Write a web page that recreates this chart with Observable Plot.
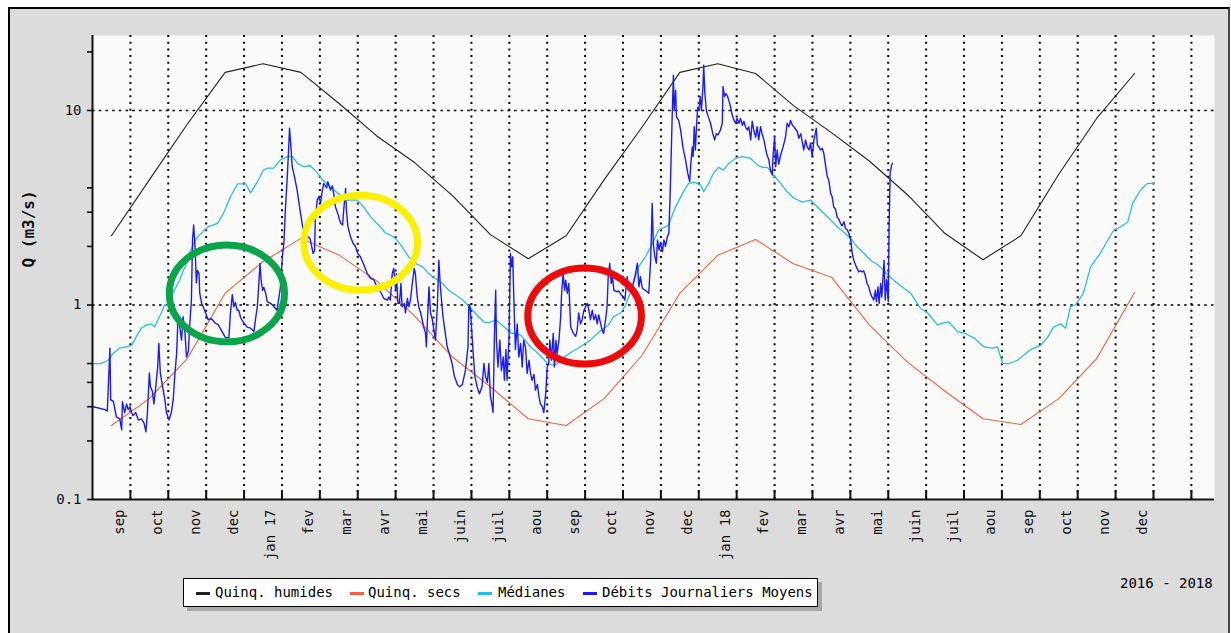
<!DOCTYPE html>
<html>
<head>
<meta charset="utf-8">
<script src="https://cdn.jsdelivr.net/npm/d3@7"></script>
<script src="https://cdn.jsdelivr.net/npm/@observablehq/plot@0.6"></script>
<style>
  html, body { margin: 0; padding: 0; background: #fff; }
  body { width: 1231px; height: 633px; overflow: hidden; position: relative; font-family: "DejaVu Sans Mono", monospace; }
  #panel { position: absolute; left: 8px; top: 7px; width: 1222px; height: 640px; background: #dcdcdc;
           border-left: 2px solid #000; border-top: 2px solid #000; border-right: 2px solid #444; box-sizing: border-box; }
  #chart { position: absolute; left: 0; top: 0; }
  #legend { position: absolute; left: 183px; top: 578px; width: 635px; height: 29px; background: #fff;
            border: 1.5px solid #000; box-sizing: border-box; box-shadow: 4px 4px 0 #a8a8a8; }
  .sw { position: absolute; height: 3px; top: 13px; }
  .lt { position: absolute; top: 5px; font-size: 14px; color: #000; white-space: pre; line-height: 16px; }
  #period { position: absolute; left: 1120px; top: 575px; font-size: 14px; color: #000; white-space: pre; }
</style>
</head>
<body>
<div id="panel"></div>
<div id="chart"></div>
<div id="legend"></div>
<div id="period"></div>
<script>
// ---------- DATA ----------
// x positions are in months since 1 Sep 2016 (uniform month width, as in the original chart)
const monthLabels = ["sep","oct","nov","dec","jan 17","fev","mar","avr","mai","juin","juil","aou",
                     "sep","oct","nov","dec","jan 18","fev","mar","avr","mai","juin","juil","aou",
                     "sep","oct","nov","dec"];
const monthBoundaries = [1,2,3,4,5,6,7,8,9,10,11,12,13,14,15,16,17,18,19,20,21,22,23,24,25,26,27,28,29];
const xDomain = [0, 29.61];
const yDomain = [0.1, 24.3];
const yMajorTicks = [0.1, 1, 10];
const yMajorLabels = ["0.1", "1", "10"];
const yMinorTicks = [0.2, 0.3, 0.4, 0.5, 2, 3, 4, 20];
const yGrid = [1, 10];
const yTitle = "Q (m3/s)";
const periodText = "2016 - 2018";

const seriesNames = ["Quinq. humides", "Quinq. secs", "Médianes", "Débits Journaliers Moyens"];
const seriesColors = ["#222222", "#f5603e", "#27bee6", "#1a1aff"];

// monthly values, plotted at mid-month (Sep 2016 ... Dec 2018)
const quinqHumides = [2.27,4.4,8.5,15.7,17.4,15.7,10.9,7.4,5.4,3.65,2.3,1.73,
                      2.27,4.4,8.2,15.7,17.4,15.5,10.6,7.7,5.5,3.7,2.33,1.71,
                      2.27,4.7,9.1,15.5];
const quinqSecs = [0.24,0.33,0.53,1.15,1.67,2.2,1.81,1.33,0.88,0.54,0.38,0.26,
                   0.24,0.33,0.55,1.15,1.80,2.17,1.63,1.39,0.79,0.51,0.36,0.26,
                   0.243,0.33,0.53,1.16];

// Médianes: [month position, Q]
const medianes = [[0,0.50],[0.21,0.50],[0.42,0.52],[0.55,0.565],[0.71,0.60],[0.90,0.61],[1.03,0.62],[1.16,0.69],[1.29,0.76],[1.43,0.79],[1.56,0.80],[1.64,0.77],[1.74,0.85],[1.85,0.94],[1.90,1.0],[2.01,0.99],[2.08,1.10],[2.16,1.19],[2.30,1.34],[2.40,1.51],[2.48,1.64],[2.56,1.84],[2.67,2.07],[2.77,2.24],[3.04,2.52],[3.30,2.63],[3.46,2.97],[3.64,3.6],[3.83,4.2],[4.04,4.2],[4.17,3.77],[4.35,4.3],[4.51,4.94],[4.62,5.05],[4.78,5.05],[4.96,5.57],[5.15,5.79],[5.28,5.79],[5.41,5.35],[5.57,5.14],[5.75,5.2],[5.94,4.75],[6.07,4.4],[6.28,4.04],[6.47,3.77],[6.73,3.46],[6.99,3.46],[7.15,3.2],[7.34,2.84],[7.60,2.52],[7.73,2.34],[7.86,2.29],[8.00,2.2],[8.18,1.98],[8.34,1.77],[8.52,1.64],[8.71,1.57],[8.87,1.45],[9.05,1.37],[9.24,1.29],[9.40,1.19],[9.58,1.13],[9.77,1.06],[9.90,1.0],[10.03,0.94],[10.19,0.87],[10.32,0.82],[10.45,0.81],[10.64,0.84],[10.77,0.80],[11.03,0.72],[11.30,0.70],[11.56,0.61],[11.82,0.55],[12.01,0.50],[12.14,0.49],[12.27,0.50],[12.40,0.53],[12.62,0.57],[12.88,0.61],[13.14,0.66],[13.41,0.74],[13.62,0.79],[13.75,0.87],[13.94,0.91],[14.07,1.0],[14.25,1.24],[14.41,1.57],[14.59,1.77],[14.78,2.07],[14.94,2.43],[15.12,2.52],[15.20,2.58],[15.39,3.2],[15.57,3.75],[15.73,4.22],[15.91,4.27],[16.05,4.12],[16.13,3.82],[16.26,4.22],[16.39,4.77],[16.52,5.1],[16.65,4.94],[16.79,5.35],[16.97,5.67],[17.15,5.79],[17.37,5.67],[17.55,5.24],[17.68,5.1],[17.81,5.1],[17.97,4.66],[18.16,4.22],[18.34,3.82],[18.50,3.55],[18.74,3.38],[18.95,3.46],[19.13,3.2],[19.29,2.97],[19.48,2.74],[19.66,2.52],[19.82,2.37],[20.01,2.2],[20.19,1.98],[20.35,1.85],[20.53,1.70],[20.72,1.61],[20.88,1.51],[21.06,1.39],[21.25,1.29],[21.59,1.15],[21.85,0.96],[22.04,0.91],[22.30,0.79],[22.46,0.81],[22.59,0.82],[22.83,0.73],[22.99,0.72],[23.25,0.68],[23.52,0.61],[23.75,0.60],[23.88,0.61],[24.02,0.50],[24.18,0.50],[24.41,0.52],[24.76,0.59],[25.02,0.62],[25.20,0.68],[25.36,0.77],[25.55,0.80],[25.68,0.76],[25.81,0.98],[25.94,1.0],[26.15,1.15],[26.34,1.57],[26.60,1.85],[26.95,2.43],[27.13,2.52],[27.32,2.67],[27.45,3.33],[27.66,3.9],[27.84,4.22],[28.00,4.22]];

// Débits journaliers moyens: [month position, Q]
const debits = [[0.02,0.30],[0.33,0.29],[0.39,0.285],[0.46,0.60],[0.48,0.325],[0.55,0.32],[0.63,0.266],[0.72,0.26],[0.77,0.228],[0.79,0.318],[0.85,0.28],[0.90,0.31],[0.94,0.29],[0.99,0.30],[1.03,0.28],[1.07,0.27],[1.14,0.28],[1.21,0.256],[1.29,0.26],[1.36,0.247],[1.41,0.223],[1.45,0.28],[1.50,0.447],[1.53,0.38],[1.58,0.36],[1.62,0.31],[1.67,0.38],[1.72,0.48],[1.75,0.635],[1.79,0.447],[1.85,0.38],[1.91,0.325],[1.95,0.28],[2.02,0.256],[2.08,0.28],[2.13,0.325],[2.17,0.43],[2.22,0.564],[2.26,0.89],[2.30,0.78],[2.35,0.66],[2.39,0.87],[2.44,0.72],[2.48,0.54],[2.53,0.58],[2.57,0.81],[2.61,1.06],[2.64,2.16],[2.67,2.58],[2.71,1.92],[2.74,1.30],[2.77,1.51],[2.81,1.45],[2.83,1.15],[2.88,1.02],[2.96,0.94],[3.05,0.84],[3.14,0.85],[3.23,0.81],[3.32,0.79],
[3.51,0.68],[3.60,0.68],[3.64,0.91],[3.69,1.13],[3.73,0.98],[3.77,1.03],[3.82,0.94],[3.86,0.94],[3.91,0.86],[3.99,0.81],[4.08,0.77],[4.17,0.76],[4.26,0.73],[4.30,0.84],[4.35,0.98],[4.39,1.29],[4.42,1.64],[4.45,1.34],[4.49,1.19],[4.52,1.23],[4.57,1.15],[4.61,1.04],[4.70,1.02],[4.79,0.98],[4.87,0.94],[4.92,1.09],[4.96,1.24],[5.01,1.77],[5.05,2.07],[5.09,3.08],[5.14,4.57],[5.17,6.0],[5.20,8.1],[5.23,6.8],[5.27,5.14],[5.33,4.57],[5.40,3.90],[5.49,2.96],[5.56,2.43],[5.62,2.43],[5.68,2.24],[5.74,2.20],[5.77,2.07],[5.82,1.84],[5.86,1.90],[5.88,2.74],[5.93,3.46],[5.97,3.60],[6.02,3.35],[6.06,3.82],[6.10,4.22],[6.18,4.0],[6.21,4.31],[6.28,3.90],[6.33,4.1],[6.37,3.68],[6.41,3.20],[6.47,2.96],[6.55,2.63],[6.60,2.58],[6.63,3.08],[6.68,3.98],[6.70,3.08],[6.74,2.53],[6.81,2.24],[6.88,2.07],[6.94,2.0],[7.00,1.84],
[7.07,1.77],[7.16,1.61],[7.25,1.45],[7.34,1.37],[7.42,1.35],[7.51,1.24],[7.60,1.17],[7.69,1.08],[7.78,1.06],[7.82,1.10],[7.86,1.06],[7.91,1.45],[7.95,1.54],[8.00,1.19],[8.02,1.45],[8.06,1.02],[8.10,1.02],[8.14,1.29],[8.17,0.98],[8.23,1.02],[8.26,0.91],[8.31,1.08],[8.35,0.98],[8.39,1.06],[8.44,1.29],[8.49,1.54],[8.52,1.45],[8.57,1.10],[8.61,0.98],[8.66,0.91],[8.70,0.84],[8.74,0.77],[8.79,0.715],[8.81,0.61],[8.84,0.84],[8.88,1.24],[8.92,0.91],[8.97,0.84],[9.01,0.74],[9.05,0.66],[9.10,0.98],[9.14,1.70],[9.18,1.24],[9.25,0.87],[9.30,0.74],[9.36,0.61],[9.42,0.56],[9.49,0.50],[9.55,0.43],[9.63,0.39],[9.69,0.38],[9.76,0.39],[9.84,0.46],[9.91,0.61],[9.93,0.98],[9.96,1.0],[9.99,0.84],[10.04,0.59],[10.09,0.43],[10.15,0.38],[10.21,0.35],[10.28,0.38],[10.33,0.50],[10.37,0.43],[10.42,0.40],[10.46,0.50],[10.50,0.34],[10.55,0.30],[10.57,0.28],[10.61,0.74],
[10.64,1.19],[10.66,0.66],[10.70,0.48],[10.75,0.66],[10.79,0.46],[10.84,0.54],[10.87,0.41],[10.91,0.59],[10.94,0.41],[10.99,0.66],[11.03,1.84],[11.06,1.57],[11.09,1.77],[11.12,1.06],[11.16,0.59],[11.21,0.80],[11.25,0.54],[11.30,0.635],[11.34,0.48],[11.38,0.66],[11.43,0.60],[11.47,0.445],[11.52,0.52],[11.56,0.445],[11.60,0.41],[11.65,0.44],[11.69,0.365],[11.74,0.39],[11.78,0.34],[11.82,0.31],[11.87,0.30],[11.91,0.28],[11.96,0.35],[12.00,0.48],[12.04,0.50],[12.07,0.66],[12.11,0.52],[12.16,0.715],[12.19,0.48],[12.23,0.66],[12.26,0.56],[12.31,0.66],[12.35,0.84],[12.38,1.15],[12.42,1.45],[12.46,1.19],[12.49,1.34],[12.53,1.15],[12.57,1.29],[12.62,0.77],[12.69,0.715],[12.75,0.69],[12.79,0.74],[12.83,0.91],[12.88,0.80],[12.92,0.84],[12.97,0.94],[13.01,0.98],[13.06,1.02],[13.10,0.94],[13.14,0.84],[13.19,0.94],[13.23,0.84],[13.28,0.89],[13.32,0.80],[13.36,0.89],[13.41,0.80],[13.45,0.74],[13.49,0.715],[13.54,0.84],[13.58,0.98],[13.61,1.40],[13.65,1.64],[13.69,1.29],[13.72,1.40],[13.76,1.19],[13.83,1.17],[13.89,1.18],[13.95,1.13],[14.01,1.10],[14.05,1.06],
[14.11,1.40],[14.15,1.19],[14.24,1.22],[14.33,1.45],[14.38,1.64],[14.42,1.24],[14.46,1.40],[14.51,1.22],[14.59,1.19],[14.68,1.15],[14.73,1.70],[14.75,2.34],[14.77,3.33],[14.80,2.07],[14.84,1.77],[14.88,1.64],[14.91,2.16],[14.95,1.92],[14.99,2.10],[15.04,1.88],[15.08,2.16],[15.12,2.0],[15.17,2.24],[15.21,2.34],[15.25,4.06],[15.30,9.6],[15.33,15.2],[15.35,10],[15.39,12.7],[15.41,9.3],[15.47,8.9],[15.52,7.94],[15.58,6.5],[15.65,5.57],[15.71,4.75],[15.76,4.31],[15.79,5.35],[15.83,6.5],[15.85,5.79],[15.88,8.25],[15.91,6.27],[15.94,8.25],[15.97,10.4],[16.00,10],[16.04,11.8],[16.07,10],[16.11,13.3],[16.13,17.1],[16.16,12.3],[16.20,10],[16.25,9.3],[16.31,8.6],[16.37,7.6],[16.42,7.06],[16.46,7.6],[16.51,7.5],[16.57,7.94],[16.62,8.6],[16.64,13.3],[16.68,11.8],[16.72,12.2],[16.76,11.8],[16.79,11.3],[16.84,10.4],[16.88,9.5],[16.93,8.9],[16.97,8.6],[17.01,9.1],[17.06,8.6],[17.10,9.1],[17.15,8.4],[17.19,8.8],[17.23,8.25],[17.28,7.94],[17.32,8.25],[17.37,7.06],[17.41,8.8],[17.45,7.94],[17.50,7.3],[17.54,8.25],[17.58,7.06],[17.63,8.25],[17.67,7.6],
[17.72,7.06],[17.79,6.0],[17.85,5.57],[17.89,4.94],[17.94,4.66],[17.96,5.79],[18.00,7.33],[18.03,5.14],[18.07,6.27],[18.11,5.3],[18.16,5.9],[18.20,6.27],[18.25,6.8],[18.29,7.33],[18.33,8.6],[18.38,8.25],[18.42,8.9],[18.47,8.4],[18.51,8.25],[18.60,7.8],[18.64,7.2],[18.69,7.6],[18.73,6.9],[18.77,6.27],[18.82,7.06],[18.86,6.5],[18.91,6.27],[18.95,6.8],[18.99,5.79],[19.04,7.06],[19.06,7.33],[19.10,8.1],[19.13,6.65],[19.17,6.5],[19.21,6.27],[19.26,6.4],[19.30,6.0],[19.35,5.14],[19.39,4.57],[19.43,4.39],[19.48,3.75],[19.52,3.6],[19.56,3.20],[19.61,3.1],[19.65,2.84],[19.70,2.75],[19.74,2.63],[19.78,2.55],[19.83,2.68],[19.87,2.48],[19.92,2.43],[19.96,2.34],[20.01,2.16],[20.05,1.84],[20.09,1.70],[20.16,1.57],[20.22,1.48],[20.27,1.50],[20.31,1.48],[20.35,1.50],[20.40,1.40],[20.44,1.29],[20.48,1.25],[20.53,1.15],[20.57,1.10],[20.62,1.06],[20.66,1.19],[20.69,1.04],[20.73,1.24],[20.76,1.02],[20.80,1.29],[20.83,1.10],[20.89,1.70],[20.92,1.06],[20.96,1.35],[21.00,1.04],[21.02,2.34],[21.05,4.75],[21.09,5.25],[21.11,5.35]];

// hand-drawn highlight ellipses (centre in data units; half-width in months, half-height in decades)
const highlights = [
  {m: 3.56, q: 1.14, halfMonths: 1.52, halfDecades: 0.249, color: "#0aa44b"},
  {m: 7.09, q: 2.08, halfMonths: 1.50, halfDecades: 0.244, color: "#fbf000"},
  {m: 13.0, q: 0.873, halfMonths: 1.50, halfDecades: 0.247, color: "#ee0a0a"}
];

// ---------- TABLES ----------
const wetRows = quinqHumides.map((q, i) => ({m: i + 0.5, q}));
const dryRows = quinqSecs.map((q, i) => ({m: i + 0.5, q}));
const medRows = medianes.map(([m, q]) => ({m, q}));
const flowRows = debits.map(([m, q]) => ({m, q}));
const labelRows = monthLabels.map((label, i) => ({label, m: i + 1}));

const FONT = "DejaVu Sans Mono, monospace";

function ellipses(index, scales) {
  const g = d3.create("svg:g");
  for (const e of highlights) {
    const cx = scales.x(e.m), cy = scales.y(e.q);
    const rx = scales.x(e.m + e.halfMonths) - cx;
    const ry = cy - scales.y(e.q * Math.pow(10, e.halfDecades));
    g.append("ellipse").attr("cx", cx).attr("cy", cy).attr("rx", rx).attr("ry", ry)
      .attr("fill", "none").attr("stroke", e.color).attr("stroke-width", 7);
  }
  return g.node();
}

const chart = Plot.plot({
  width: 1231,
  height: 570,
  marginLeft: 92,
  marginRight: 17,
  marginTop: 35,
  marginBottom: 71,
  style: {background: "transparent", fontFamily: FONT, color: "#000", overflow: "visible"},
  x: {type: "linear", domain: xDomain, axis: null},
  y: {type: "log", domain: yDomain, axis: null},
  marks: [
    Plot.frame({fill: "#fafbf9", stroke: "none"}),
    Plot.ruleX(monthBoundaries, {x: d => d, stroke: "#000", strokeWidth: 2, strokeDasharray: "2,4.7"}),
    Plot.ruleY(yGrid, {y: d => d, stroke: "#000", strokeWidth: 1.6, strokeDasharray: "2.6,4.1"}),
    Plot.line(wetRows, {x: "m", y: "q", stroke: seriesColors[0], strokeWidth: 1.1}),
    Plot.line(dryRows, {x: "m", y: "q", stroke: seriesColors[1], strokeWidth: 1.1}),
    Plot.line(medRows, {x: "m", y: "q", stroke: seriesColors[2], strokeWidth: 1.3}),
    Plot.line(flowRows, {x: "m", y: "q", stroke: seriesColors[3], strokeWidth: 1.4}),
    ellipses,
    Plot.ruleX([xDomain[0]], {x: d => d, stroke: "#111", strokeWidth: 2}),
    Plot.ruleY([yDomain[0]], {y: d => d, stroke: "#111", strokeWidth: 2}),
    Plot.ruleX(monthBoundaries, {x: d => d, stroke: "#111", strokeWidth: 2, insetTop: 455}),
    Plot.axisY(yMajorTicks, {tickSize: 5, tickPadding: 6, strokeWidth: 1.5, fontSize: 14, fill: "#111",
      tickFormat: d => yMajorLabels[yMajorTicks.indexOf(d)], label: null}),
    Plot.axisY(yMinorTicks, {tickSize: 5, strokeWidth: 1.5, tickFormat: () => "", label: null}),
    Plot.text(labelRows, {x: "m", y: () => yDomain[0], text: "label", rotate: -90, textAnchor: "end",
      lineAnchor: "middle", dx: -11, dy: 10, fontSize: 14, fill: "#111"}),
    Plot.text([yTitle], {frameAnchor: "left", dx: -64, rotate: -90, fontWeight: "bold", fontSize: 16,
      fill: "#111"})
  ]
});
document.getElementById("chart").appendChild(chart);

// ---------- LEGEND ----------
const legend = document.getElementById("legend");
const swatchX = [12, 166, 294, 399];
const textX = [31, 184, 314, 418];
seriesNames.forEach((name, i) => {
  const sw = document.createElement("div");
  sw.className = "sw";
  sw.style.left = swatchX[i] + "px";
  sw.style.width = "14px";
  sw.style.background = seriesColors[i];
  legend.appendChild(sw);
  const t = document.createElement("div");
  t.className = "lt";
  t.style.left = textX[i] + "px";
  t.textContent = name;
  legend.appendChild(t);
});
document.getElementById("period").textContent = periodText;
</script>
</body>
</html>
